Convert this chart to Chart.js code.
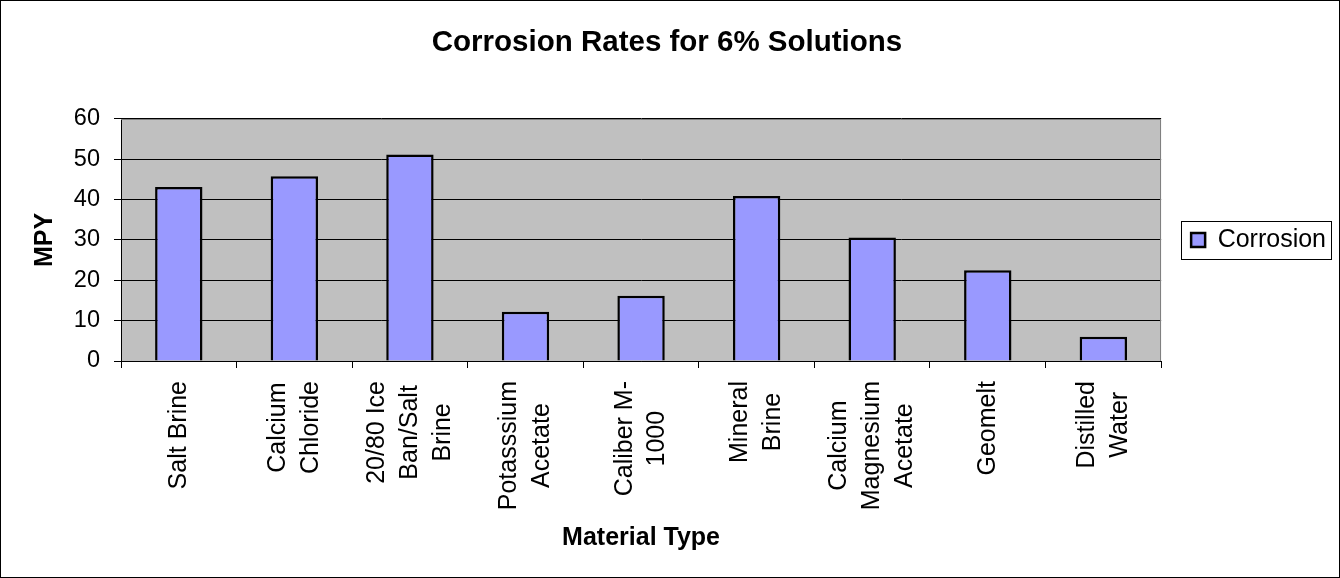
<!DOCTYPE html>
<html>
<head>
<meta charset="utf-8">
<script src="https://cdn.jsdelivr.net/npm/chart.js@4"></script>
<style>
  html, body { margin: 0; padding: 0; background: #fff; }
  #frame { width: 1340px; height: 578px; box-sizing: border-box; border: 1px solid #000; }
  #chart { display: block; }
</style>
</head>
<body>
<div id="frame"><canvas id="chart" width="1338" height="576"></canvas></div>
<script>
// --- chart data ---
const categories = [
  'Salt Brine',
  ['Calcium', 'Chloride'],
  ['20/80 Ice', 'Ban/Salt', 'Brine'],
  ['Potasssium', 'Acetate'],
  ['Caliber M-', '1000'],
  ['Mineral', 'Brine'],
  ['Calcium', 'Magnesium', 'Acetate'],
  'Geomelt',
  ['Distilled', 'Water']
];
const corrosion = [43.1, 45.8, 51.2, 12.2, 16.2, 40.9, 30.6, 22.5, 6.0];
const yTicks = [0, 10, 20, 30, 40, 50, 60];

const FONT = 'Arial, "Liberation Sans", sans-serif';
const LABEL_SIZE = 25;
const LABEL_LINE = 32.7;
const LEGEND_PAD = 27;

// grey plot background, with a grey frame on top and right
const plotBackground = {
    id: 'plotBackground',
    beforeDraw(chart) {
        const { ctx, chartArea: a } = chart;
        ctx.save();
        ctx.fillStyle = '#c0c0c0';
        ctx.fillRect(a.left, a.top, a.width, a.height);
        ctx.restore();
    },
    beforeDatasetsDraw(chart) {
        const { ctx, chartArea: a } = chart;
        ctx.save();
        ctx.strokeStyle = '#808080';
        ctx.lineWidth = 1;
        ctx.beginPath();
        ctx.moveTo(a.left, Math.round(a.top) + 0.5);
        ctx.lineTo(Math.round(a.right) - 0.5, Math.round(a.top) + 0.5);
        ctx.lineTo(Math.round(a.right) - 0.5, a.bottom);
        ctx.stroke();
        ctx.restore();
    }
};

// category labels: rotated, lines centred on each other (Excel style)
const categoryLabels = {
    id: 'categoryLabels',
    afterDraw(chart) {
        const { ctx } = chart;
        const xs = chart.scales.x;
        ctx.save();
        ctx.font = LABEL_SIZE + 'px ' + FONT;
        ctx.fillStyle = '#000';
        ctx.textAlign = 'center';
        ctx.textBaseline = 'middle';
        chart.data.labels.forEach((lab, i) => {
            const lines = Array.isArray(lab) ? lab : [lab];
            const maxW = Math.max(...lines.map(l => ctx.measureText(l).width));
            const px = xs.getPixelForValue(i);
            ctx.save();
            ctx.translate(px, xs.top + 20 + maxW / 2);
            ctx.rotate(-Math.PI / 2);
            lines.forEach((l, j) => {
                ctx.fillText(l, 0, (j - (lines.length - 1) / 2) * LABEL_LINE);
            });
            ctx.restore();
        });
        ctx.restore();
    }
};

// legend sits beside the plot, centred on it, with a thin frame
const legendPlace = {
    id: 'legendPlace',
    afterLayout(chart) {
        const lg = chart.legend, a = chart.chartArea;
        lg.top = a.top;
        lg.bottom = a.bottom;
        lg.height = a.bottom - a.top;
        lg.left = a.right + 30 - LEGEND_PAD;
        lg.right = lg.left + lg.width;
    },
    afterDraw(chart) {
        const box = chart.legend.legendHitBoxes[0];
        if (!box) return;
        const { ctx } = chart;
        const cy = box.top + box.height / 2;
        ctx.save();
        ctx.strokeStyle = '#000';
        ctx.lineWidth = 1;
        ctx.strokeRect(Math.round(box.left) - 9.5, Math.round(cy - 19) + 0.5, 150, 38);
        ctx.restore();
    }
};

new Chart(document.getElementById('chart'), {
    type: 'bar',
    data: {
        labels: categories,
        datasets: [{
            label: 'Corrosion',
            data: corrosion,
            backgroundColor: '#9999ff',
            borderColor: '#000',
            borderWidth: 2.5,
            categoryPercentage: 1,
            barPercentage: 0.41
        }]
    },
    plugins: [plotBackground, categoryLabels, legendPlace],
    options: {
        responsive: false,
        animation: false,
        layout: { padding: { left: 0, right: 6, top: 0, bottom: 0 } },
        scales: {
            x: {
                grid: { display: true, drawOnChartArea: false, drawTicks: true, tickLength: 7, color: '#000', offset: true },
                border: { color: '#000', width: 1 },
                ticks: { display: false },
                title: {
                    display: true,
                    text: 'Material Type',
                    color: '#000',
                    font: { family: FONT, size: 25, weight: 'bold' },
                    padding: { top: 0, bottom: 24 }
                },
                afterFit(scale) { scale.height = 216; }
            },
            y: {
                min: 0,
                max: 60,
                afterBuildTicks(scale) { scale.ticks = yTicks.map(v => ({ value: v })); },
                grid: { color: '#000', tickLength: 7, lineWidth: 1 },
                border: { color: '#000', width: 1 },
                ticks: {
                    color: '#000',
                    font: { family: FONT, size: 23.5 },
                    padding: 14
                },
                title: {
                    display: true,
                    text: 'MPY',
                    color: '#000',
                    font: { family: FONT, size: 25, weight: 'bold' },
                    padding: { top: 29, bottom: 0 }
                },
                afterFit(scale) { scale.width = 120; }
            }
        },
        plugins: {
            title: {
                display: true,
                text: 'Corrosion Rates for 6% Solutions',
                color: '#000',
                font: { family: FONT, size: 29.5, weight: 'bold' },
                padding: { top: 24.5, bottom: 58 }
            },
            legend: {
                position: 'right',
                labels: {
                    color: '#000',
                    font: { family: FONT, size: 25 },
                    boxWidth: 14,
                    boxHeight: 14,
                    padding: LEGEND_PAD
                }
            },
            tooltip: { enabled: false }
        }
    }
});
</script>
</body>
</html>
